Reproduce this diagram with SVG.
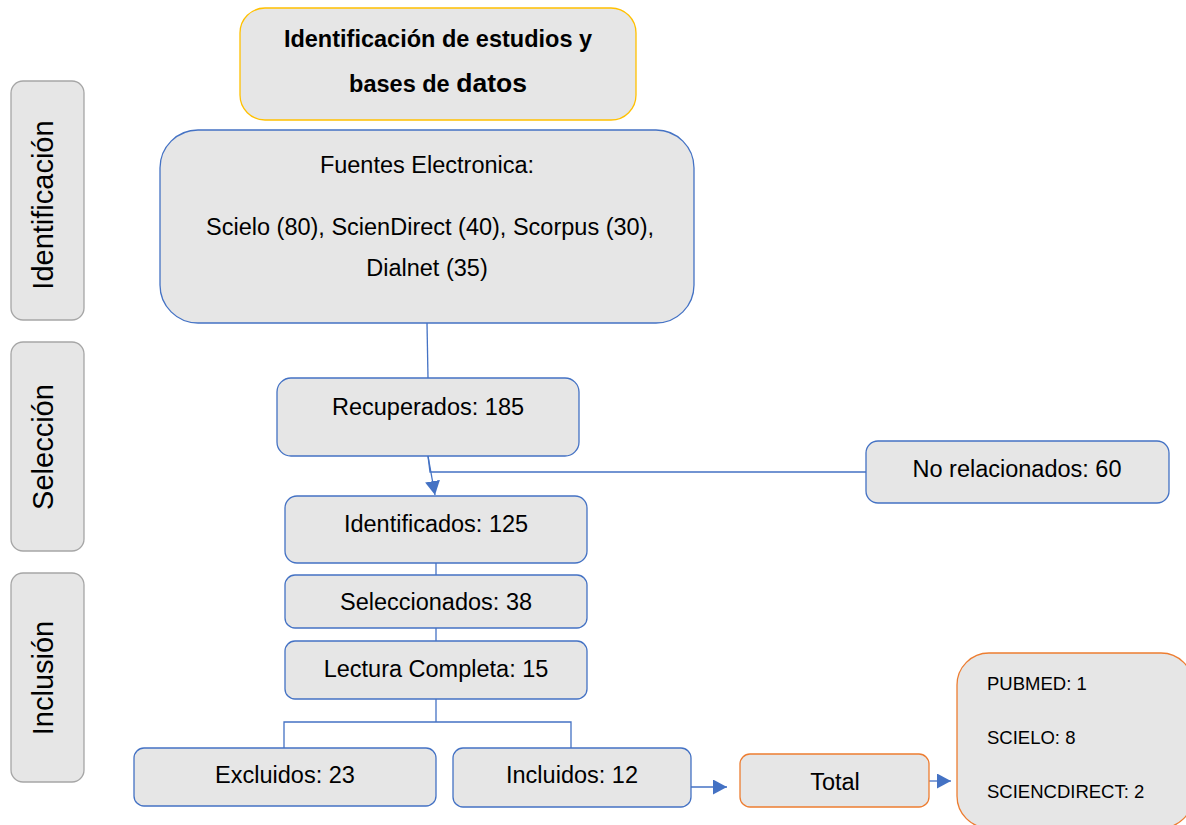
<svg xmlns="http://www.w3.org/2000/svg" width="1186" height="825" viewBox="0 0 1186 825">
<defs>
<style>
.box{fill:#E6E6E6;stroke:#4472C4;stroke-width:1.3}
.side{fill:#E6E6E6;stroke:#A6A6A6;stroke-width:1.3}
.orange{fill:#E6E6E6;stroke:#ED7D31;stroke-width:1.3}
.title{fill:#E6E6E6;stroke:#FFC000;stroke-width:1.3}
.t{font-family:"Liberation Sans",Arial,sans-serif;font-size:23.5px;fill:#000;text-anchor:middle}
.tb{font-family:"Liberation Sans",Arial,sans-serif;font-size:23.5px;font-weight:bold;fill:#000;text-anchor:middle}
.ts{font-family:"Liberation Sans",Arial,sans-serif;font-size:18.5px;fill:#000}
.tl{font-family:"Liberation Sans",Arial,sans-serif;font-size:29px;fill:#000;text-anchor:middle}
.c{fill:none;stroke:#4472C4;stroke-width:1.3}
</style>
<marker id="ah" markerUnits="userSpaceOnUse" markerWidth="15" markerHeight="16" refX="14" refY="7.5" orient="auto">
<path d="M0,0 L14,7.5 L0,15 z" fill="#4472C4"/>
</marker>
</defs>

<g id="side-identificacion">
<rect class="side" x="11" y="81" width="73" height="239" rx="12"/>
<text class="tl" transform="translate(53,205) rotate(-90)">Identificación</text>
</g>
<g id="side-seleccion">
<rect class="side" x="11" y="342" width="73" height="209" rx="12"/>
<text class="tl" transform="translate(53,447) rotate(-90)">Selección</text>
</g>
<g id="side-inclusion">
<rect class="side" x="11" y="573" width="73" height="209" rx="12"/>
<text class="tl" transform="translate(53,678) rotate(-90)">Inclusión</text>
</g>

<g id="connectors">
<line class="c" x1="427" y1="323" x2="428" y2="378"/>
<polyline class="c" points="866,472 430,472 428,456"/>
<line class="c" x1="428" y1="456" x2="435" y2="495" marker-end="url(#ah)"/>
<line class="c" x1="436" y1="563" x2="436" y2="575"/>
<line class="c" x1="436" y1="628" x2="436" y2="641"/>
<polyline class="c" points="436,699 436,722"/>
<polyline class="c" points="284,748 284,722 571,722 571,748"/>
<line class="c" x1="691" y1="787" x2="727" y2="787" marker-end="url(#ah)"/>
<line class="c" x1="929" y1="781" x2="951" y2="781" marker-end="url(#ah)"/>
</g>

<g id="node-title">
<rect class="title" x="240" y="8" width="396" height="112" rx="25"/>
<text class="tb" x="438" y="47">Identificación de estudios y</text>
<text class="tb" x="438" y="92">bases de <tspan style="font-size:26.5px">datos</tspan></text>
</g>

<g id="node-fuentes">
<rect class="box" x="160" y="130" width="534" height="193" rx="38"/>
<text class="t" x="427" y="173">Fuentes Electronica:</text>
<text class="t" x="430" y="235">Scielo (80), ScienDirect (40), Scorpus (30),</text>
<text class="t" x="427" y="276">Dialnet (35)</text>
</g>

<g id="node-recuperados">
<rect class="box" x="277" y="378" width="302" height="78" rx="14"/>
<text class="t" x="428" y="415">Recuperados: 185</text>
</g>

<g id="node-norelacionados">
<rect class="box" x="866" y="441" width="303" height="62" rx="12"/>
<text class="t" x="1017" y="477">No relacionados: 60</text>
</g>

<g id="node-identificados">
<rect class="box" x="285" y="496" width="302" height="67" rx="12"/>
<text class="t" x="436" y="532">Identificados: 125</text>
</g>

<g id="node-seleccionados">
<rect class="box" x="285" y="575" width="302" height="53" rx="10"/>
<text class="t" x="436" y="610">Seleccionados: 38</text>
</g>

<g id="node-lectura">
<rect class="box" x="285" y="641" width="302" height="58" rx="10"/>
<text class="t" x="436" y="677">Lectura Completa: 15</text>
</g>

<g id="node-excluidos">
<rect class="box" x="134" y="748" width="302" height="58" rx="10"/>
<text class="t" x="285" y="783">Excluidos: 23</text>
</g>

<g id="node-incluidos">
<rect class="box" x="453" y="748" width="238" height="59" rx="10"/>
<text class="t" x="572" y="783">Incluidos: 12</text>
</g>

<g id="node-total">
<rect class="orange" x="740" y="754" width="189" height="53" rx="10"/>
<text class="t" x="835" y="790">Total</text>
</g>

<g id="node-resultados">
<rect class="orange" x="957" y="653" width="236" height="175" rx="32"/>
<text class="ts" x="987" y="690">PUBMED: 1</text>
<text class="ts" x="987" y="744">SCIELO: 8</text>
<text class="ts" x="987" y="798">SCIENCDIRECT: 2</text>
</g>
</svg>
